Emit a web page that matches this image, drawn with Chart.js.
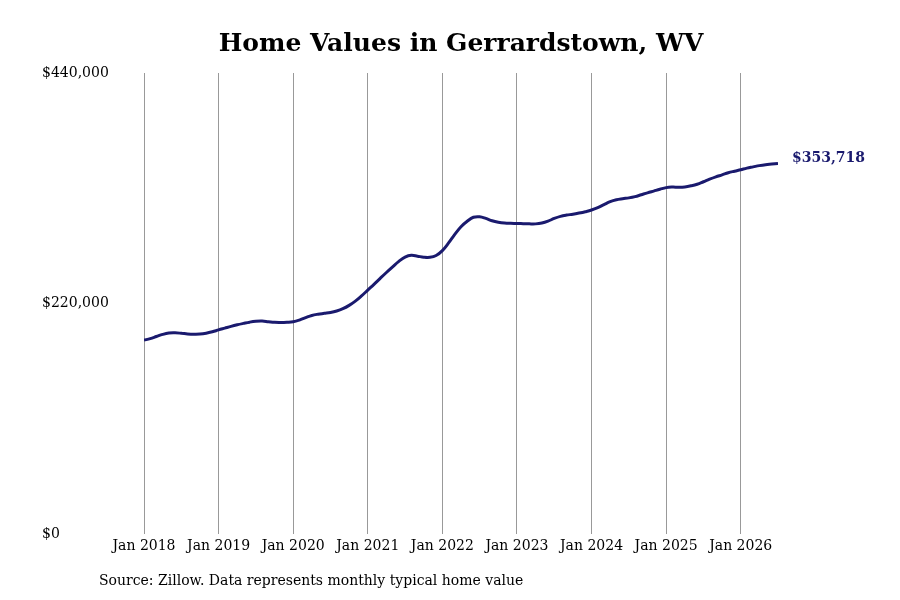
<!DOCTYPE html>
<html>
<head>
<meta charset="utf-8">
<script src="https://cdn.jsdelivr.net/npm/chart.js@4.4.1/dist/chart.umd.min.js"></script>
<style>
  html, body { margin: 0; padding: 0; background: #fff; }
  #wrap { width: 900px; height: 600px; }
</style>
</head>
<body>
<div id="wrap"><canvas id="chart" width="900" height="600"></canvas></div>
<script>
// Gerrardstown, WV - typical home value, monthly Jan 2018 .. Jul 2026
const tickLabels = ['Jan 2018', 'Jan 2019', 'Jan 2020', 'Jan 2021', 'Jan 2022', 'Jan 2023', 'Jan 2024', 'Jan 2025', 'Jan 2026'];
const yTicks = [0, 220000, 440000];

const values2018 = [185000, 186500, 188500, 190500, 191800, 192000, 191600, 191000, 190700, 190800, 191600, 193000];
const values2019 = [194800, 196500, 198200, 199700, 201000, 202200, 203000, 203200, 202600, 202000, 201900, 202100];
const values2020 = [202600, 204200, 206500, 208600, 209800, 210600, 211400, 212800, 215000, 218200, 222300, 227300];
const values2021 = [232800, 238300, 244000, 249600, 255000, 260200, 264300, 266000, 265200, 264200, 264100, 265800];
const values2022 = [270500, 277800, 286000, 293300, 298500, 302300, 302800, 301200, 299000, 297600, 296800, 296500];
const values2023 = [296400, 296200, 296000, 296000, 296800, 298600, 301200, 303200, 304400, 305200, 306300, 307600];
const values2024 = [309200, 311500, 314400, 317200, 319000, 320000, 320800, 322000, 323800, 325600, 327300, 329000];
const values2025 = [330600, 331100, 331000, 331300, 332300, 333800, 336200, 338700, 340900, 342800, 344800, 346300];
const values2026 = [347700, 349200, 350400, 351600, 352500, 353100, 353718];

const title = 'Home Values in Gerrardstown, WV';
const source = 'Source: Zillow. Data represents monthly typical home value';

const values = [].concat(values2018, values2019, values2020, values2021, values2022,
  values2023, values2024, values2025, values2026);
const points = values.map((v, i) => ({ x: i, y: v }));
const lineColor = '#1a1a6e';
const fam = "'DejaVu Serif', serif";

const money = v => '$' + Math.round(v).toLocaleString('en-US');

// title over the plot area, end label, source note
const extras = {
  id: 'extras',
  afterDraw(chart) {
    const { ctx, chartArea } = chart;
    ctx.save();
    ctx.fillStyle = '#000';
    ctx.font = 'bold 25px ' + fam;
    ctx.textAlign = 'center';
    ctx.textBaseline = 'middle';
    ctx.fillText(title, (chartArea.left + chartArea.right) / 2, 44);

    const meta = chart.getDatasetMeta(0);
    const last = meta.data[meta.data.length - 1];
    ctx.fillStyle = lineColor;
    ctx.font = 'bold 14px ' + fam;
    ctx.textAlign = 'left';
    ctx.fillText(money(values[values.length - 1]), last.x + 14, last.y - 5);

    ctx.fillStyle = '#000';
    ctx.font = '14px ' + fam;
    ctx.fillText(source, 99, 581);
    ctx.restore();
  }
};

new Chart(document.getElementById('chart'), {
  type: 'line',
  data: {
    datasets: [{
      data: points,
      borderColor: lineColor,
      borderWidth: 3,
      pointRadius: 0,
      tension: 0.4,
      fill: false
    }]
  },
  options: {
    responsive: false,
    animation: false,
    devicePixelRatio: 1,
    layout: { padding: { left: 42, right: 122, top: 73, bottom: 36 } },
    plugins: { legend: { display: false }, title: { display: false }, tooltip: { enabled: false } },
    scales: {
      x: {
        type: 'linear',
        min: 0,
        max: values.length - 1,
        afterBuildTicks: s => { s.ticks = tickLabels.map((_, i) => ({ value: i * 12 })); },
        afterFit: s => { s.height = 30; },
        grid: { display: true, color: '#999', lineWidth: 1, tickLength: 0, drawTicks: false },
        border: { display: false },
        ticks: {
          padding: 4,
          maxRotation: 0,
          autoSkip: false,
          color: '#000',
          font: { family: fam, size: 14 },
          callback: v => tickLabels[v / 12]
        }
      },
      y: {
        min: 0,
        max: 440000,
        afterBuildTicks: s => { s.ticks = yTicks.map(v => ({ value: v })); },
        afterFit: s => { s.width = 102; },
        grid: { display: false },
        border: { display: false },
        ticks: {
          crossAlign: 'far',
          color: '#000',
          font: { family: fam, size: 14 },
          callback: v => money(v)
        }
      }
    }
  },
  plugins: [extras]
});
</script>
</body>
</html>
